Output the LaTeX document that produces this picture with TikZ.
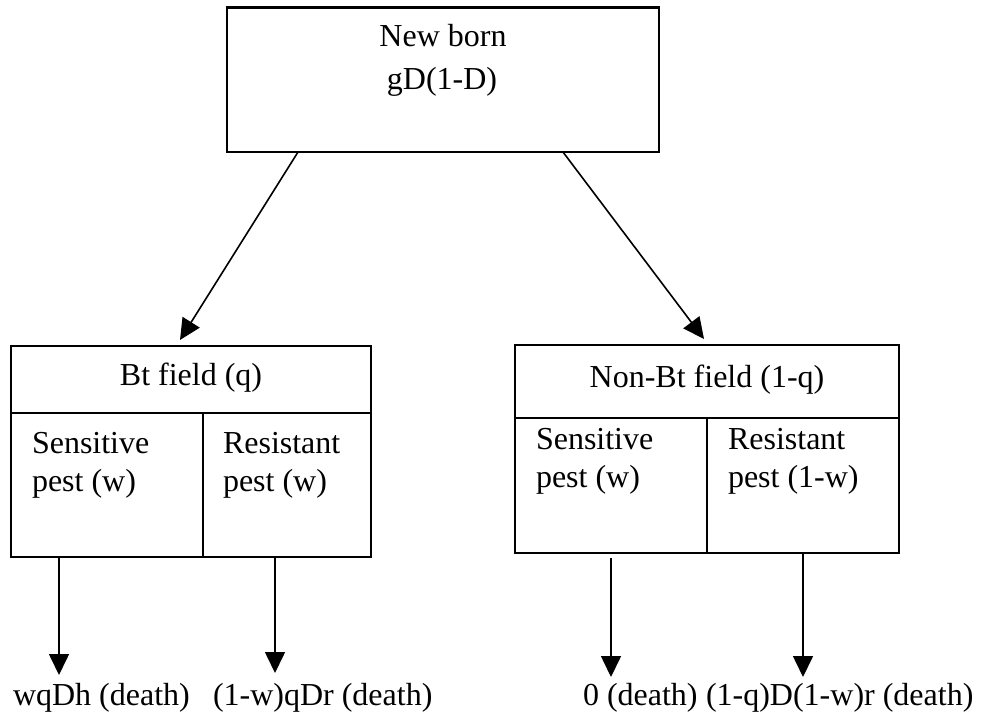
\documentclass[tikz,border=0pt]{standalone}
\usepackage{fontspec}
\setmainfont{Liberation Serif}
\usetikzlibrary{arrows.meta}
\begin{document}
\begin{tikzpicture}[x=0.75pt,y=-0.75pt,
  box/.style={draw, line width=1.5pt, inner sep=0pt, outer sep=0pt, anchor=north west},
  txt/.style={inner sep=0pt, outer sep=0pt, font=\fontsize{24}{29}\selectfont},
  arr/.style={line width=1.2pt, -{Triangle[length=15.75pt,width=15pt]}}]
\useasboundingbox (0,0) rectangle (1002,713);

% boxes
\node[box, line width=1.8pt, minimum width=324pt, minimum height=108.4pt] (top) at (227,7.5) {};
\node[box, minimum width=270pt, minimum height=50.25pt] (btH) at (11,346) {};
\node[box, minimum width=144pt, minimum height=108pt] (btS) at (11,413) {};
\node[box, minimum width=126pt, minimum height=108pt] (btR) at (203,413) {};
\node[box, minimum width=288pt, minimum height=54.75pt] (nH) at (515,345) {};
\node[box, minimum width=144pt, minimum height=101.25pt] (nS) at (515,418) {};
\node[box, minimum width=144pt, minimum height=101.25pt] (nR) at (707,418) {};

% texts
\node[txt, anchor=base] (t1) at (443,46.7) {New born};
\node[txt, anchor=base] (t2) at (442,90) {gD(1-D)};
\node[txt, anchor=base] (h1) at (191,385) {Bt field (q)};
\node[txt, anchor=base] (h2) at (707,387) {Non-Bt field (1-q)};
\node[txt, anchor=base west] (s1a) at (32,453) {Sensitive};
\node[txt, anchor=base west] (s1b) at (32,491.7) {pest (w)};
\node[txt, anchor=base west] (r1a) at (223,453) {Resistant};
\node[txt, anchor=base west] (r1b) at (223,491.7) {pest (w)};
\node[txt, anchor=base west] (s2a) at (536,449) {Sensitive};
\node[txt, anchor=base west] (s2b) at (536,487.5) {pest (w)};
\node[txt, anchor=base west] (r2a) at (728,449) {Resistant};
\node[txt, anchor=base west] (r2b) at (728,487.5) {pest (1-w)};
\node[txt, anchor=base west] (d1) at (13,705.7) {wqDh (death)};
\node[txt, anchor=base west] (d2) at (213,705.7) {(1-w)qDr (death)};
\node[txt, anchor=base west] (d3) at (583,705.7) {0 (death)};
\node[txt, anchor=base west] (d4) at (706,705.7) {(1-q)D(1-w)r (death)};

% arrow end points
\coordinate (tipL) at (180,340);
\coordinate (tipR) at (704,339);
\coordinate (e1) at (59,675);
\coordinate (e2) at (275,673);
\coordinate (e3) at (611,677);
\coordinate (e4) at (803,677);

% connectors
\draw[arr] ([xshift=53.25pt]top.south west) -- (tipL);
\draw[arr] ([xshift=252pt]top.south west) -- (tipR);
\draw[arr] ([xshift=36pt]btS.south west) -- (e1);
\draw[arr] ([xshift=54pt]btR.south west) -- (e2);
\draw[arr] ([xshift=72pt,yshift=-3.75pt]nS.south west) -- (e3);
\draw[arr] ([xshift=72pt]nR.south west) -- (e4);
\end{tikzpicture}
\end{document}
